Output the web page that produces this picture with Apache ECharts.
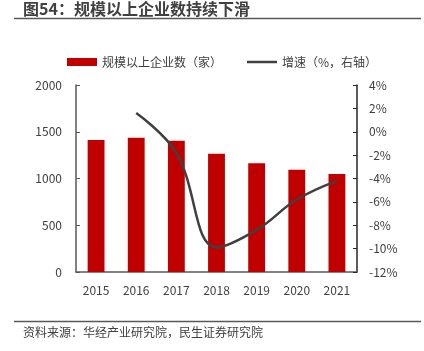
<!DOCTYPE html>
<html><head><meta charset="utf-8">
<script src="https://cdn.jsdelivr.net/npm/echarts@6/dist/echarts.min.js"></script>
<style>html,body{margin:0;padding:0;background:#fff}#c{width:424px;height:351px}</style>
</head><body><div id="c"></div>
<script>
var years = ['2015','2016','2017','2018','2019','2020','2021'];
var companies = [1412, 1436, 1404, 1265, 1162, 1094, 1048];
var growth = [null, 1.6, -1.8, -9.9, -8.4, -5.8, -4.2];
var leftTicks = [0, 500, 1000, 1500, 2000];
var rightTicks = [-12, -10, -8, -6, -4, -2, 0, 2, 4];
var barName = '规模以上企业数（家）';
var lineName = '增速（%，右轴）';
var titleText = '图54：规模以上企业数持续下滑';
var sourceText = '资料来源：华经产业研究院，民生证券研究院';

var FONT = '"Noto Sans CJK SC", "Noto Sans", sans-serif';
var chart = echarts.init(document.getElementById('c'), null, {renderer: 'canvas'});
chart.setOption({
  animation: false,
  textStyle: {fontFamily: FONT},
  graphic: [
    {type: 'text', left: 23, top: 1, style: {text: titleText, font: 'bold 16px ' + FONT, fill: '#404040'}},
    {type: 'line', shape: {x1: 14, y1: 18.5, x2: 421, y2: 18.5}, style: {stroke: '#595959', lineWidth: 1.5}},
    {type: 'line', shape: {x1: 14, y1: 321.5, x2: 421, y2: 321.5}, style: {stroke: '#595959', lineWidth: 1.5}},
    {type: 'text', left: 23, top: 326, style: {text: sourceText, font: '12px ' + FONT, fill: '#404040'}}
  ],
  legend: [
    {top: 51, left: 62, itemWidth: 30, itemHeight: 8, itemGap: 4,
     textStyle: {fontSize: 12, color: '#404040', fontFamily: FONT},
     data: [{name: barName, icon: 'rect'}]},
    {top: 51, left: 242, itemWidth: 30, itemHeight: 2.5, itemGap: 4,
     textStyle: {fontSize: 12, color: '#404040', fontFamily: FONT},
     data: [{name: lineName, icon: 'rect'}]}
  ],
  grid: {left: 76, right: 67, top: 85, bottom: 79},
  xAxis: {
    type: 'category', data: years,
    axisLine: {lineStyle: {color: '#595959', width: 1.5}},
    axisTick: {show: false},
    axisLabel: {color: '#404040', fontSize: 12, margin: 12, fontFamily: FONT}
  },
  yAxis: [
    {type: 'value', min: 0, max: 2000, interval: 500,
     axisLine: {show: true, lineStyle: {color: '#595959', width: 1.5}},
     axisTick: {show: true, inside: true, length: 4, lineStyle: {color: '#595959'}},
     splitLine: {show: false},
     axisLabel: {color: '#404040', fontSize: 12, margin: 14, fontFamily: FONT,
                 formatter: function (v) { return String(v); }}},
    {type: 'value', min: -12, max: 4, interval: 2,
     axisLine: {show: true, lineStyle: {color: '#262626', width: 1.5}},
     axisTick: {show: true, inside: true, length: 4, lineStyle: {color: '#262626'}},
     splitLine: {show: false},
     axisLabel: {color: '#404040', fontSize: 12, margin: 12, formatter: '{value}%', fontFamily: FONT}}
  ],
  series: [
    {name: barName, type: 'bar', data: companies, barWidth: '42%',
     itemStyle: {color: '#C00000'}},
    {name: lineName, type: 'line', yAxisIndex: 1, data: growth, smooth: 0.4,
     smoothConstraint: false,
     symbol: 'none', connectNulls: false,
     lineStyle: {color: '#404040', width: 2.5}, itemStyle: {color: '#404040'}}
  ]
});
</script></body></html>
